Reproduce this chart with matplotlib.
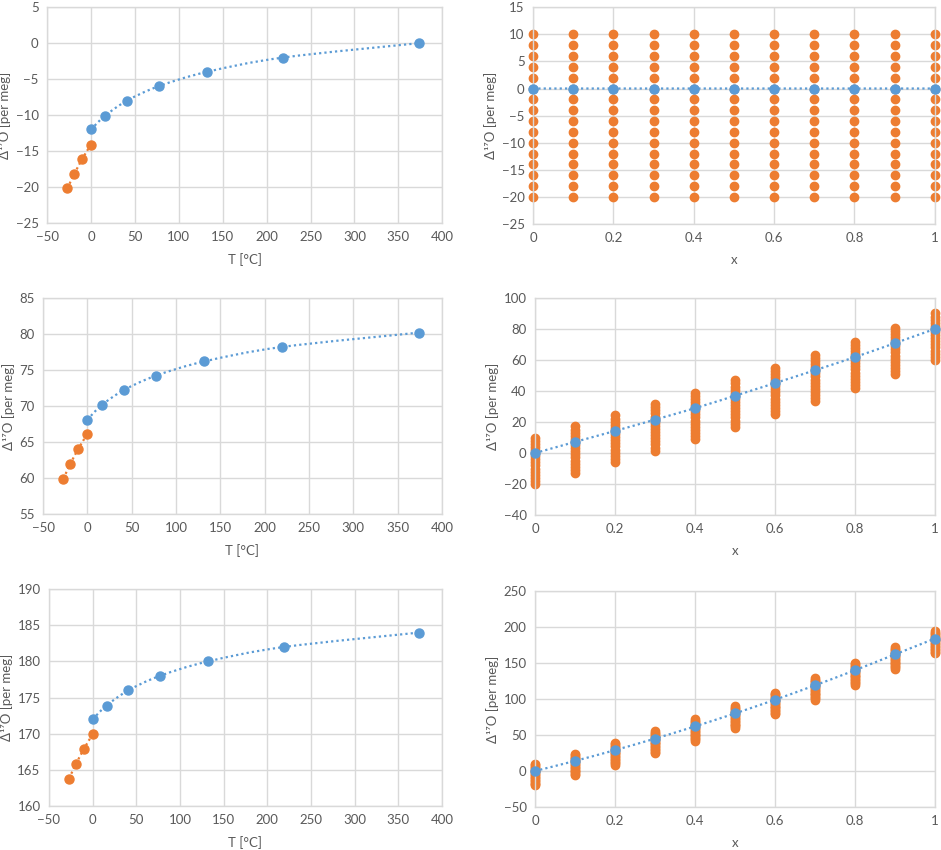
"""
Six panels of D17O: temperature curves (left) and mixing lines (right)
"""
import numpy as np
import matplotlib
matplotlib.use('Agg')
from matplotlib import pyplot as plt
from matplotlib.path import Path
from matplotlib.patches import PathPatch

plt.rcParams['font.family'] = ['Lato', 'DejaVu Sans']
plt.rcParams['font.size'] = 9.5

BLUE = '#5B9BD5'
ORANGE = '#ED7D31'
GRID = '#D9D9D9'
TEXT = '#595959'

# left column: temperature (deg C)
t_blue = [0, 16, 41, 77, 132, 219, 374]
t_orange = [-27, -19, -10, 0]
d17_top_blue = [-12, -10.1, -8, -6, -4, -2, 0]
d17_top_orange = [-20.2, -18.2, -16.1, -14.1]
d17_mid_blue = [68.1, 70.1, 72.2, 74.2, 76.2, 78.2, 80.2]
d17_mid_orange = [59.9, 62.0, 64.1, 66.1]
d17_bot_blue = [172.0, 173.9, 176.0, 178.0, 180.0, 182.0, 184.0]
d17_bot_orange = [163.8, 165.8, 167.9, 169.9]

# right column: mixing fraction x
x_mix = [0, 0.1, 0.2, 0.3, 0.4, 0.5, 0.6, 0.7, 0.8, 0.9, 1.0]
mix_top_blue = [0, 0, 0, 0, 0, 0, 0, 0, 0, 0, 0]
mix_mid_blue = [0, 7.2, 14.3, 21.6, 29.0, 37.0, 45.2, 53.5, 62.0, 71.0, 80.2]
mix_bot_blue = [0, 14, 29, 45, 62, 80, 99, 119, 140, 162, 184]
# spread of the orange points around each blue point
orange_spread = [-20, -18, -16, -14, -12, -10, -8, -6, -4, -2, 0, 2, 4, 6, 8, 10]

DOT = (0, (1, 1.4))


def smooth_path(xs, ys):
    # Excel style smoothed line: Catmull-Rom segments as cubic Beziers
    xs = np.asarray(xs, float)
    ys = np.asarray(ys, float)
    pts = np.column_stack([xs, ys])
    verts = [pts[0]]
    codes = [Path.MOVETO]
    n = len(pts)
    for i in range(n - 1):
        p0 = pts[max(i - 1, 0)]
        p1 = pts[i]
        p2 = pts[i + 1]
        p3 = pts[min(i + 2, n - 1)]
        verts += [p1 + (p2 - p0) / 6, p2 - (p3 - p1) / 6, p2]
        codes += [Path.CURVE4] * 3
    return Path(verts, codes)


def style_axes(ax, xlim, xticks, ylim, yticks, xlabel):
    ax.set_xlim(*xlim)
    ax.set_ylim(*ylim)
    ax.set_xticks(xticks)
    ax.set_yticks(yticks)
    ax.grid(True, color=GRID, linewidth=1)
    ax.set_axisbelow(True)
    for s in ax.spines.values():
        s.set_color(GRID)
        s.set_linewidth(1)
    ax.tick_params(length=0, colors=TEXT, labelsize=9.5, pad=6)
    ax.set_xlabel(xlabel, color=TEXT, fontsize=9.5, labelpad=7)
    ax.set_ylabel('Δ¹⁷O [per meg]', color=TEXT, fontsize=9.5, labelpad=3)


def fmt_x(v):
    return '{:g}'.format(v)


fig = plt.figure(figsize=(9.41, 8.5), dpi=100)

left_pos = [[0.050, 0.7376, 0.420, 0.254],
            [0.0457, 0.3953, 0.424, 0.254],
            [0.052, 0.0518, 0.4176, 0.255]]
right_pos = [[0.5664, 0.7365, 0.427, 0.255],
             [0.5685, 0.3941, 0.425, 0.255],
             [0.5685, 0.0506, 0.425, 0.254]]

left_data = [(d17_top_blue, d17_top_orange, (-25, 5)),
             (d17_mid_blue, d17_mid_orange, (55, 85)),
             (d17_bot_blue, d17_bot_orange, (160, 190))]

for pos, (yb, yo, yl) in zip(left_pos, left_data):
    ax = fig.add_axes(pos)
    ax.add_patch(PathPatch(smooth_path(t_blue, yb), fill=False, edgecolor=BLUE,
                           linewidth=1.6, linestyle=DOT, zorder=2))
    ax.add_patch(PathPatch(smooth_path(t_orange, yo), fill=False, edgecolor=ORANGE,
                           linewidth=1.6, linestyle=DOT, zorder=2))
    ax.plot(t_blue, yb, 'o', color=BLUE, markersize=6.5, zorder=3)
    ax.plot(t_orange, yo, 'o', color=ORANGE, markersize=6.5, zorder=3)
    style_axes(ax, (-50, 400), np.arange(-50, 401, 50), yl,
               np.arange(yl[0], yl[1] + 1, 5), 'T [°C]')

right_data = [(mix_top_blue, (-25, 15), 5),
              (mix_mid_blue, (-40, 100), 20),
              (mix_bot_blue, (-50, 250), 50)]

for pos, (yb, yl, step) in zip(right_pos, right_data):
    ax = fig.add_axes(pos)
    for xi, bi in zip(x_mix, yb):
        ys = [bi + s for s in orange_spread]
        ax.plot([xi] * len(ys), ys, 'o', color=ORANGE, markersize=6, zorder=2)
    ax.add_patch(PathPatch(smooth_path(x_mix, yb), fill=False, edgecolor=BLUE,
                           linewidth=1.6, linestyle=DOT, zorder=3))
    ax.plot(x_mix, yb, 'o', color=BLUE, markersize=6.5, zorder=4)
    style_axes(ax, (0, 1), np.arange(0, 1.01, 0.2), yl,
               np.arange(yl[0], yl[1] + 1, step), 'x')
    ax.set_xticklabels([fmt_x(round(v, 1)) for v in np.arange(0, 1.01, 0.2)])
    for m in ax.get_lines():
        m.set_clip_on(False)

plt.savefig('out.png', dpi=100)
